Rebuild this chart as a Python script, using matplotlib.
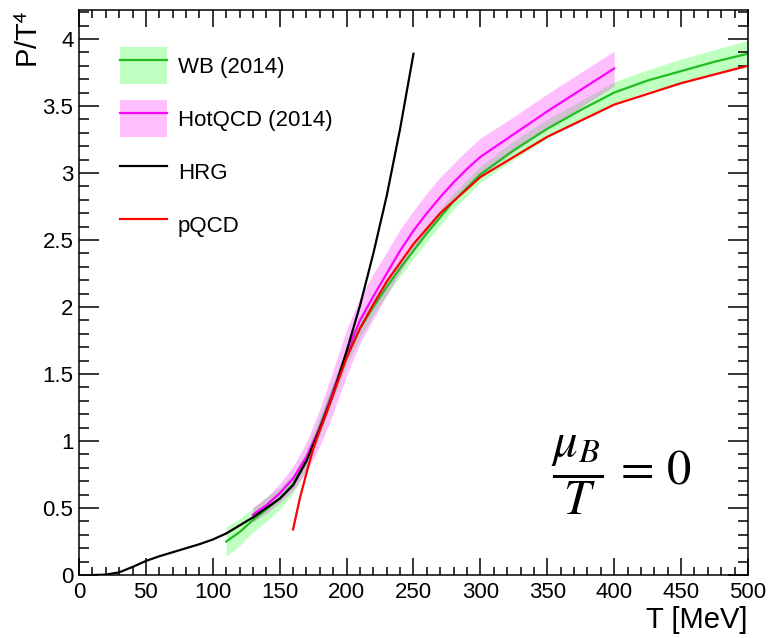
import numpy as np
import matplotlib
matplotlib.use('Agg')
import matplotlib.pyplot as plt
from matplotlib.patches import Patch
from matplotlib.lines import Line2D
from matplotlib.ticker import MultipleLocator

plt.rcParams['font.family'] = ['Liberation Sans', 'DejaVu Sans']
plt.rcParams['mathtext.fontset'] = 'stix'

# HRG
T_hrg = [10, 20, 30, 40, 50, 60, 70, 80, 90, 100, 110, 120, 130, 140, 150,
         160, 170, 180, 190, 200, 210, 220, 230, 240, 250]
P_hrg = [0.0, 0.003, 0.02, 0.06, 0.105, 0.14, 0.17, 0.20, 0.23, 0.265, 0.31,
         0.37, 0.43, 0.50, 0.57, 0.67, 0.85, 1.09, 1.35, 1.67, 2.01, 2.40,
         2.83, 3.33, 3.89]

# pQCD
T_pqcd = [160, 165, 170, 175, 180, 185, 190, 200, 210, 220, 230, 240, 250,
          270, 300, 350, 400, 450, 500]
P_pqcd = [0.34, 0.57, 0.76, 0.94, 1.08, 1.21, 1.35, 1.62, 1.84, 2.02, 2.19,
          2.33, 2.47, 2.70, 2.97, 3.27, 3.51, 3.67, 3.80]

# WB (2014)
T_wb = [110, 120, 130, 140, 150, 160, 170, 180, 190, 200, 210, 220, 230, 240,
        250, 260, 270, 280, 300, 325, 350, 375, 400, 425, 450, 475, 500]
P_wb = [0.25, 0.32, 0.41, 0.49, 0.57, 0.68, 0.86, 1.11, 1.38, 1.64, 1.84,
        2.00, 2.15, 2.29, 2.42, 2.55, 2.67, 2.79, 2.99, 3.17, 3.33, 3.47,
        3.60, 3.69, 3.76, 3.83, 3.89]
E_wb = [0.11, 0.10, 0.09, 0.09, 0.08, 0.07, 0.07, 0.07, 0.07, 0.07, 0.07,
        0.06, 0.06, 0.06, 0.06, 0.06, 0.06, 0.06, 0.06, 0.07, 0.07, 0.07,
        0.08, 0.08, 0.09, 0.09, 0.10]

# HotQCD (2014)
T_hot = [130, 140, 150, 160, 170, 180, 190, 200, 210, 220, 230, 240, 250,
         260, 270, 280, 290, 300, 325, 350, 375, 400]
P_hot = [0.45, 0.52, 0.61, 0.72, 0.88, 1.10, 1.37, 1.66, 1.90, 2.08, 2.25,
         2.42, 2.57, 2.70, 2.82, 2.93, 3.03, 3.12, 3.29, 3.46, 3.62, 3.78]
E_hot = [0.055, 0.06, 0.07, 0.09, 0.11, 0.14, 0.16, 0.17, 0.17, 0.17, 0.16,
         0.16, 0.15, 0.15, 0.15, 0.14, 0.14, 0.14, 0.13, 0.13, 0.13, 0.13]

labels = ['WB (2014)', 'HotQCD (2014)', 'HRG', 'pQCD']

fig = plt.figure(figsize=(7.7, 6.38), dpi=100)
ax = fig.add_axes([0.1026, 0.0987, 0.8688, 0.8856])

wb = np.array(P_wb)
ewb = np.array(E_wb)
hot = np.array(P_hot)
ehot = np.array(E_hot)

ax.fill_between(T_wb, wb - ewb, wb + ewb, color='#00ff00', alpha=0.25, lw=0)
ax.plot(T_wb, P_wb, color='#22bb22', lw=1.6)
ax.fill_between(T_hot, hot - ehot, hot + ehot, color='#ff00ff', alpha=0.25, lw=0)
ax.plot(T_hot, P_hot, color='#ff00ff', lw=1.6)
ax.plot(T_hrg, P_hrg, color='black', lw=1.6)
ax.plot(T_pqcd, P_pqcd, color='#ff0000', lw=1.6)

ax.set_xlim(0, 500)
ax.set_ylim(0, 4.216)
ax.xaxis.set_major_locator(MultipleLocator(50))
ax.xaxis.set_minor_locator(MultipleLocator(10))
ax.yaxis.set_minor_locator(MultipleLocator(0.1))
ax.set_yticks([0, 0.5, 1, 1.5, 2, 2.5, 3, 3.5, 4])
ax.set_yticklabels(['0', '0.5', '1', '1.5', '2', '2.5', '3', '3.5', '4'])
ax.tick_params(axis='both', which='both', direction='in', top=True, right=True,
               labelsize=16, width=1.1)
ax.tick_params(axis='x', which='major', length=12, pad=5)
ax.tick_params(axis='x', which='minor', length=6)
ax.tick_params(axis='y', which='major', length=14.5, pad=4)
ax.tick_params(axis='y', which='minor', length=7.2)
for s in ax.spines.values():
    s.set_linewidth(1.1)

fig.text(748 / 770, 1 - 620 / 638, 'T [MeV]', ha='right', va='center', fontsize=21)
fig.text(30 / 770, 1 - 10 / 638, 'P/T$^{\\mathsf{4}}$', rotation=90,
         ha='center', va='top', fontsize=21)

ax.text(0.81, 0.177, r'$\dfrac{\mu_B}{T}\,=\,0$', transform=ax.transAxes,
        ha='center', va='center', fontsize=35)

h_wb = (Patch(facecolor='#00ff00', alpha=0.25, lw=0), Line2D([], [], color='#22bb22', lw=1.6))
h_hot = (Patch(facecolor='#ff00ff', alpha=0.25, lw=0), Line2D([], [], color='#ff00ff', lw=1.6))
h_hrg = Line2D([], [], color='black', lw=1.6)
h_pqcd = Line2D([], [], color='#ff0000', lw=1.6)
ax.legend([h_wb, h_hot, h_hrg, h_pqcd], labels, loc='upper left',
          bbox_to_anchor=(0.0613, 0.9345), frameon=False, fontsize=16,
          handlelength=2.1, handleheight=2.19, handletextpad=0.5,
          labelspacing=0.72, borderpad=0, borderaxespad=0)

fig.savefig('out.png', dpi=100)
